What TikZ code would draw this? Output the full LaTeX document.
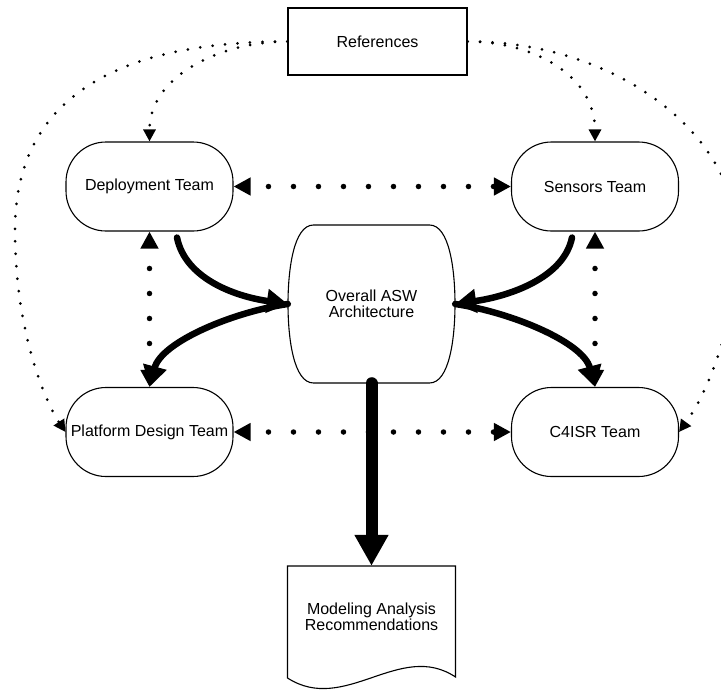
\documentclass[tikz,border=0pt]{standalone}
\usepackage{fontspec}
\setmainfont{Liberation Sans}
\usepackage{xcolor}
\usepackage{tikz}
\usetikzlibrary{arrows.meta}
\usetikzlibrary{calc}

\begin{document}
\begin{tikzpicture}[x=1pt, y=-1pt]
\tikzstyle{txt}=[font=\fontsize{16}{16.5}\selectfont, align=center]
\tikzstyle{team}=[txt, draw=black, line width=1.1pt, rounded corners=40pt, minimum width=167pt, minimum height=89pt]
\tikzstyle{refbox}=[txt, draw=black, line width=1.1pt, minimum width=179pt, minimum height=67pt]
\tikzstyle{archbox}=[txt, minimum width=167pt, minimum height=158pt]
\tikzstyle{docbox}=[minimum width=168pt, minimum height=112pt]
\tikzstyle{outline}=[draw=black, line width=1.1pt]
\tikzstyle{feed}=[line width=6.5pt, line cap=round, -{Triangle[length=21pt, width=23pt]}]
\tikzstyle{result}=[line width=12pt, line cap=round, -{Triangle[length=31pt, width=32pt]}]
\tikzstyle{share}=[line width=5.5pt, line cap=round, dash pattern=on 0pt off 25pt, {Triangle[length=17pt, width=17pt]}-{Triangle[length=17pt, width=17pt]}]
\tikzstyle{source}=[line width=3pt, line cap=round, dash pattern=on 0pt off 12.5pt, -{Triangle[length=12pt, width=12pt]}]

\useasboundingbox (0,0) rectangle (721,691);

% Nodes
\node[refbox] (refs) at (377.5,41.5) {References};
\node[team] (dep) at (149.5,186.5) {Deployment Team};
\node[team] (sen) at (595,186.5) {Sensors Team};
\node[team] (plat) at (149.5,432) {Platform Design Team};
\node[team] (c4) at (595,432) {C4ISR Team};
\node[archbox] (arch) at (371.5,304) {Overall ASW\\Architecture};
\node[docbox] (doc) at (371.5,622) {};
\node[txt, yshift=5pt] (doctext) at (doc.center) {Modeling Analysis\\Recommendations};

% Outlines of the odd shapes
\draw[outline, shift={(arch.center)}] (-58,-79) -- (58,-79) .. controls (78,-79) and (83.5,-34) .. (83.5,0)
  .. controls (83.5,34) and (78,79) .. (58,79) -- (-58,79) .. controls (-78,79) and (-83.5,34) .. (-83.5,0)
  .. controls (-83.5,-34) and (-78,-79) .. (-58,-79) -- cycle;
\draw[outline, shift={(doc.center)}] (-84,-56) -- (84,-56) -- (84,55)
  .. controls (28.5,18) and (-26.5,93) .. (-84,56) -- cycle;

% References feed the teams
\coordinate (farleft) at (15,230);
\coordinate (farright) at (737,240);
\draw[source] (refs.west) .. controls +(-66,0) and +(0,-66) .. (dep.north);
\draw[source] (refs.east) .. controls +(66,0) and +(0,-66) .. (sen.north);
\draw[source] (refs.west) .. controls +(-188,0) and +(0,-120) .. (farleft)
  .. controls +(0,100) and +(-21,-32) .. (plat.west);
\draw[source] (refs.east) .. controls +(150,0) and +(0,-105) .. (farright)
  .. controls +(0,85) and +(27,-37) .. (c4.east);

% Team to team
\draw[share, dash phase=6pt] (dep.east) -- (sen.west);
\draw[share, dash phase=6pt] (plat.east) -- (c4.west);
\draw[share, dash phase=4pt] (dep.south) -- (plat.north);
\draw[share, dash phase=4pt] (sen.south) -- (c4.north);

% Into and out of the architecture
\draw[feed] ($(dep.south)+(27.5,6)$) .. controls +(8,40) and +(-55,-8) .. (arch.west);
\draw[feed] (arch.west) .. controls +(-55,8) and +(12,-45) .. (plat.north);
\draw[feed] ($(sen.south)+(-23,6)$) .. controls +(-8,40) and +(55,-8) .. (arch.east);
\draw[feed] (arch.east) .. controls +(55,8) and +(-12,-45) .. (c4.north);
\draw[result] (arch.south) -- (doc.north);
\end{tikzpicture}
\end{document}
